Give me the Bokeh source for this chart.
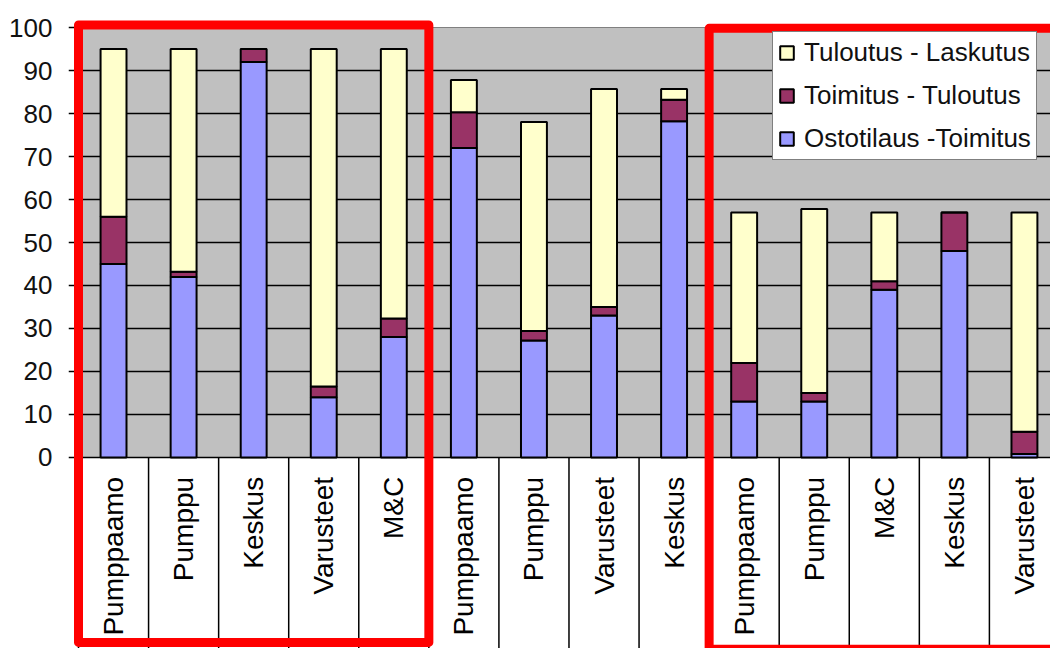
import numpy as np
from bokeh.plotting import figure
from bokeh.models import ColumnDataSource, Range1d, FixedTicker, Legend, LegendItem
from bokeh.core.properties import value
from bokeh.embed import file_html
from bokeh.resources import INLINE

# ---- data ----
categories = ["Pumppaamo", "Pumppu", "Keskus", "Varusteet", "M&C",
              "Pumppaamo", "Pumppu", "Varusteet", "Keskus",
              "Pumppaamo", "Pumppu", "M&C", "Keskus", "Varusteet"]
ostotilaus_toimitus = [45, 42, 92, 14, 28, 72, 27.2, 33, 78.2, 13, 13, 39, 48, 0.8]
toimitus_tuloutus = [11, 1.2, 3, 2.5, 4.3, 8.3, 2.2, 2, 5, 9, 2, 2, 9, 5.2]
tuloutus_laskutus = [39, 51.8, 0, 78.5, 62.7, 7.5, 48.6, 50.7, 2.5, 35, 42.8, 16, 0, 51]
series_names = ["Ostotilaus -Toimitus", "Toimitus - Tuloutus", "Tuloutus - Laskutus"]
series_colors = ["#9999FF", "#993366", "#FFFFCC"]
y_ticks = [0, 10, 20, 30, 40, 50, 60, 70, 80, 90, 100]
highlight_groups = [(0, 4), (9, 13)]

FONT = "Liberation Sans"
n = len(categories)
xs = list(range(n))

src = ColumnDataSource(dict(
    x=xs, cat=categories,
    s0=ostotilaus_toimitus, s1=toimitus_tuloutus, s2=tuloutus_laskutus,
))

x_start, x_end = -0.6427, 13.372
y_start, y_end = -44.42, 106.28

p = figure(width=1050, height=648,
           x_range=Range1d(x_start, x_end), y_range=Range1d(y_start, y_end),
           output_backend="svg", toolbar_location=None, x_axis_location=None,
           min_border_left=68, min_border_right=0, min_border_top=0, min_border_bottom=0)
p.grid.visible = False
p.outline_line_color = None
p.background_fill_color = "white"
p.border_fill_color = "white"

ax = p.yaxis[0]
ax.ticker = FixedTicker(ticks=y_ticks)
ax.axis_line_color = None
ax.major_tick_line_color = None
ax.minor_tick_line_color = None
ax.major_label_text_font = FONT
ax.major_label_text_font_size = "26px"
ax.major_label_text_color = "#111111"
ax.major_label_standoff = 10

# plot area background
plot_left = xs[0] - 0.5
plot_right = xs[-1] + 0.5
p.quad(left=plot_left, right=plot_right + 1, bottom=y_ticks[0], top=y_ticks[-1],
       fill_color="#C0C0C0", line_color=None)
p.segment(x0=plot_left, x1=plot_right + 1, y0=y_ticks[-1], y1=y_ticks[-1],
          line_color="#808080", line_width=1)

# gridlines (with tick stubs to the left)
inner = y_ticks[:-1]
p.segment(x0=[x_start] * len(inner), x1=[plot_right + 1] * len(inner), y0=inner, y1=inner,
          line_color="black", line_width=1.7)
p.segment(x0=x_start, x1=plot_left, y0=y_ticks[-1], y1=y_ticks[-1],
          line_color="black", line_width=1.7)

# bars
rs = p.vbar_stack(["s0", "s1", "s2"], x="x", width=0.37, source=src,
                  fill_color=series_colors, line_color="black", line_width=2)

# category label area
bounds = [k - 0.5 for k in range(n + 1)]
p.segment(x0=bounds, x1=bounds, y0=[0] * len(bounds), y1=[y_start] * len(bounds),
          line_color="black", line_width=1.5)
p.text(x="x", y=-4.5, text="cat", source=src, angle=np.pi / 2,
       text_align="right", text_baseline="middle",
       text_font=value(FONT), text_font_size="28px", text_color="black")

# red highlight rectangles
tops = [100.6, 99.8]
bottoms = [-43.0, -44.6]
for (a, b), t, bt in zip(highlight_groups, tops, bottoms):
    p.quad(left=a - 0.5, right=b + 0.5, top=t, bottom=bt,
           fill_color=None, line_color="#FF0000", line_width=9, line_join="round")

# legend
items = [LegendItem(label=series_names[i], renderers=[rs[i]]) for i in (2, 1, 0)]
legend = Legend(items=items, location=(704, 488), orientation="vertical",
                margin=0, padding=5, spacing=12, label_height=30,
                glyph_width=17, glyph_height=17, label_standoff=9,
                label_text_font=FONT, label_text_font_size="26px",
                label_text_color="#111111",
                border_line_color="black", border_line_width=1,
                background_fill_color="white", background_fill_alpha=1.0)
p.add_layout(legend)

open("out.html", "w").write(file_html(p, INLINE))
